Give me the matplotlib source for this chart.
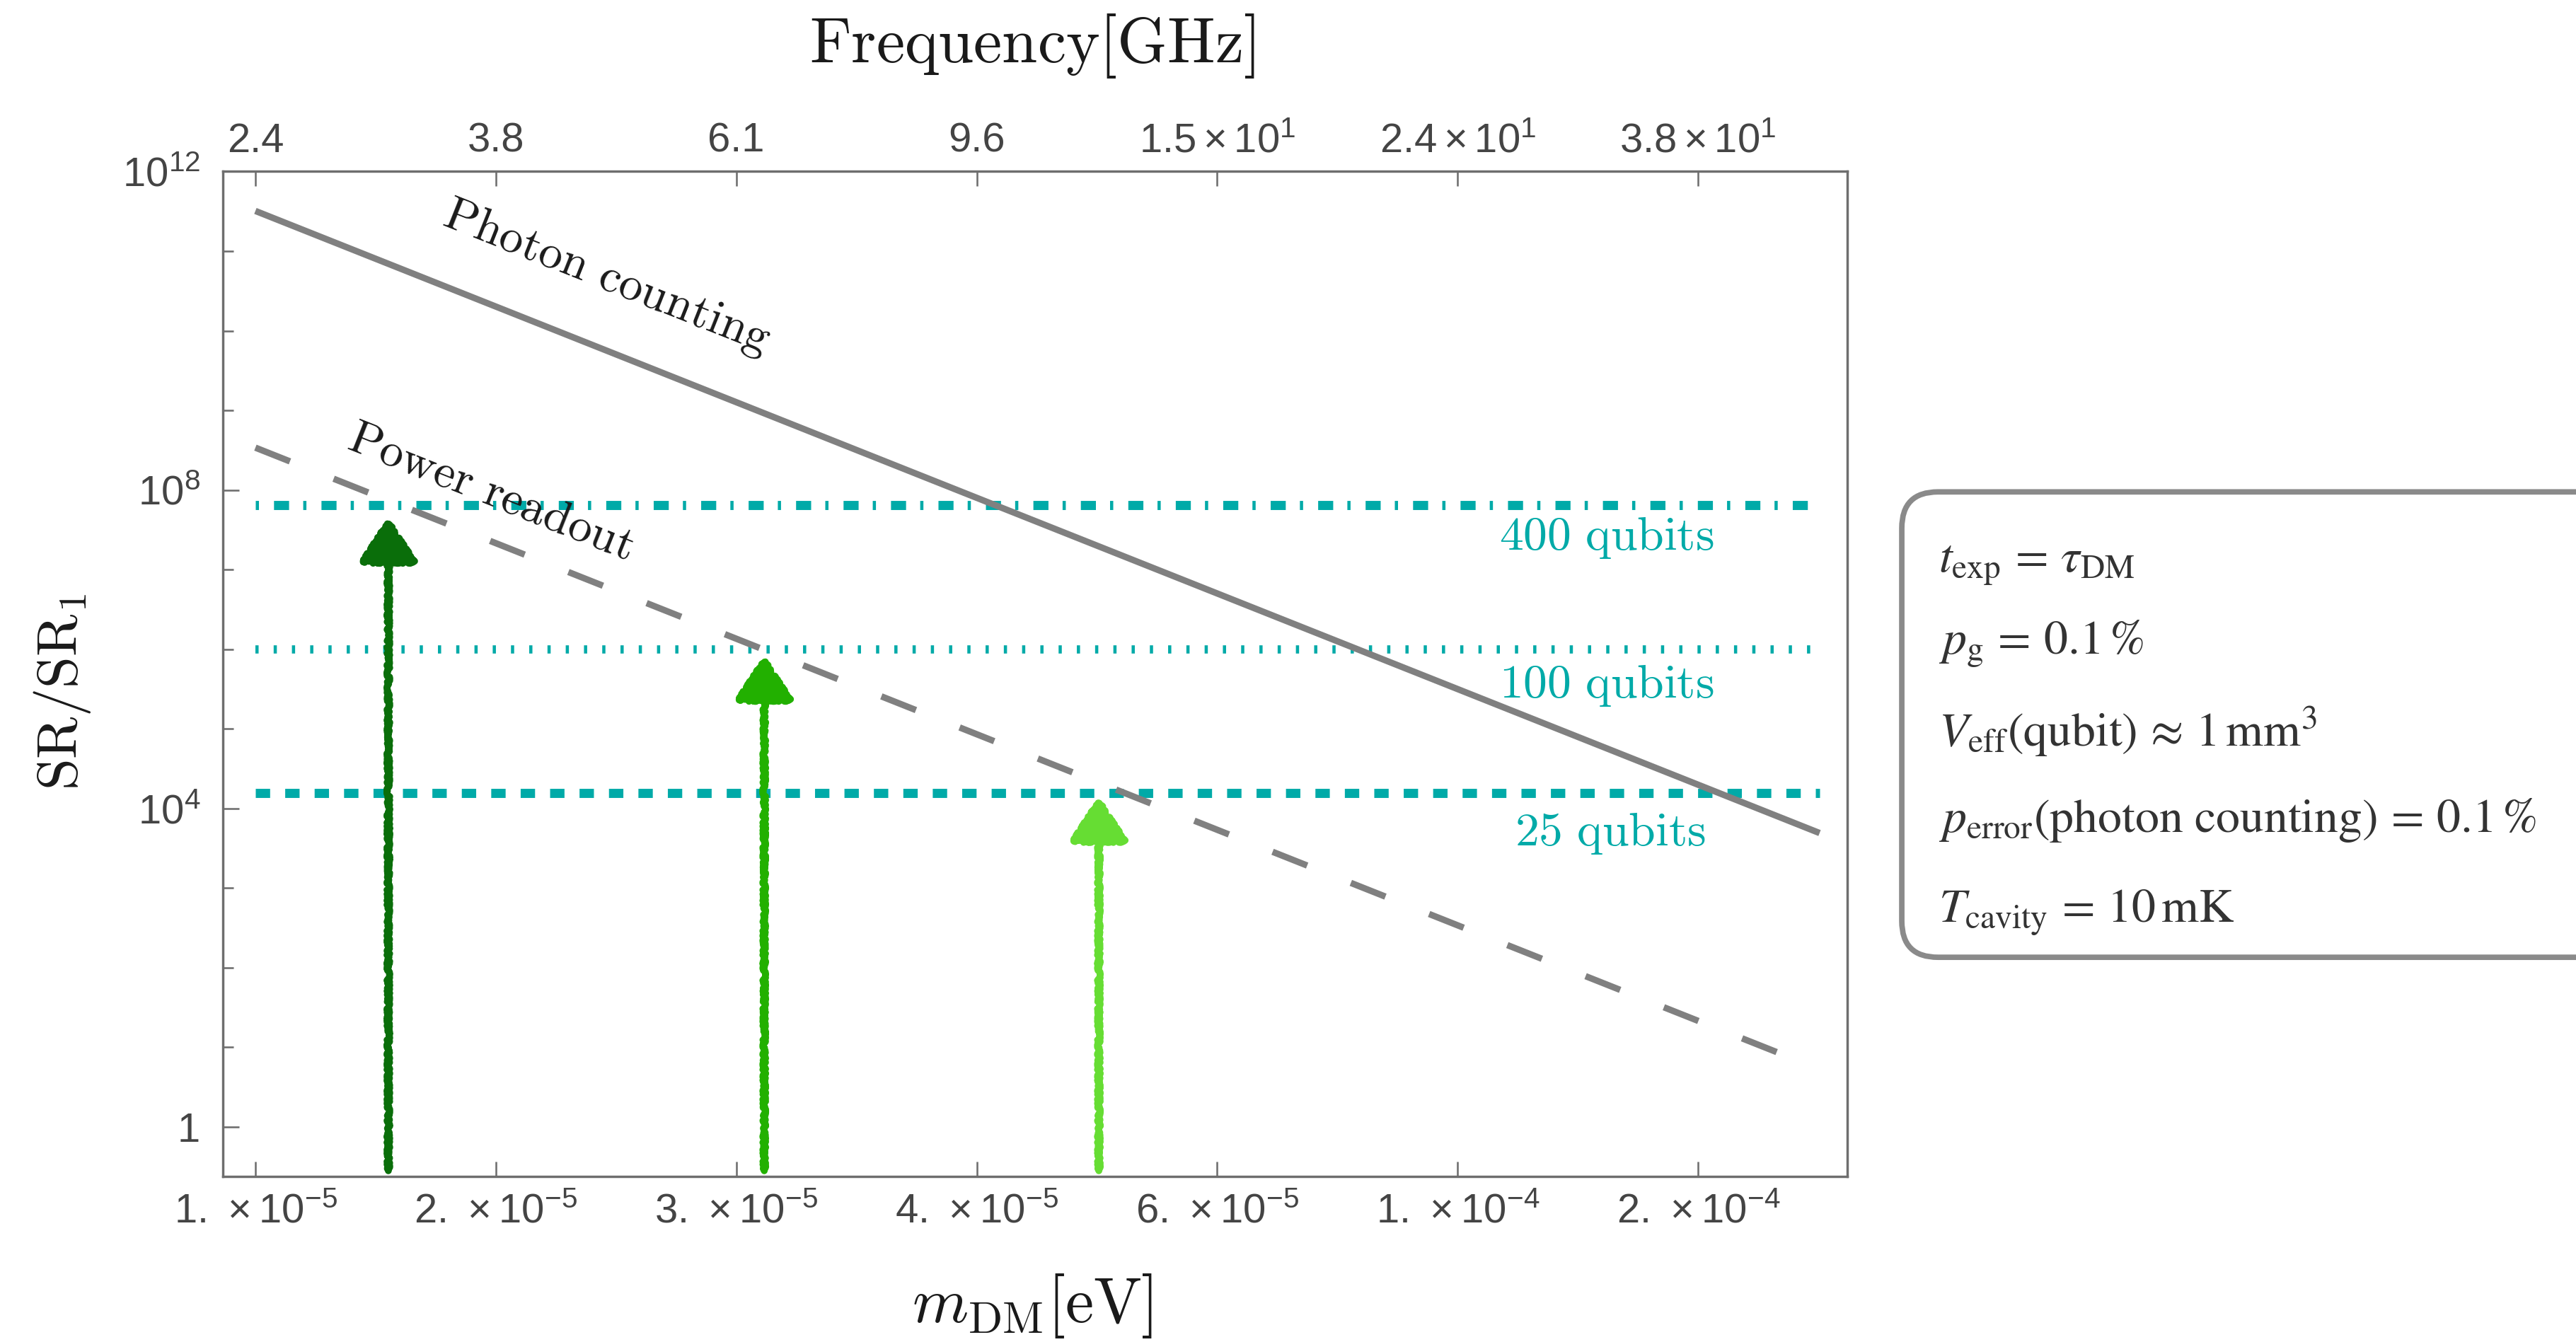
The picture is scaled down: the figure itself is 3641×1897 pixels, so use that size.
import matplotlib
matplotlib.use('Agg')
import matplotlib.pyplot as plt
from matplotlib.patches import FancyBboxPatch
from matplotlib.ticker import FixedLocator, NullLocator, NullFormatter

plt.rcParams['font.family'] = ['Liberation Sans', 'DejaVu Sans']
plt.rcParams['mathtext.fontset'] = 'custom'
plt.rcParams['mathtext.rm'] = 'Liberation Sans'
plt.rcParams['mathtext.it'] = 'Liberation Sans:italic'
plt.rcParams['mathtext.bf'] = 'Liberation Sans:bold'
plt.rcParams['lines.scale_dashes'] = False

# --- data ---
mass_range = [1.0e-5, 2.0e-4]              # eV, span of all lines
photon_counting = [3.2e11, 4.9e3]           # SR/SR1 at the two ends
power_readout = [3.4e8, 5.3]

qubit_levels = [6.4e7, 1.0e6, 1.56e4]
qubit_labels = ['400 qubits', '100 qubits', '25 qubits']
qubit_label_pos = [(1.33e-4, 2.5e7), (1.33e-4, 3.5e5), (1.34e-4, 4.9e3)]

arrow_mass = [1.29e-5, 2.65e-5, 5.03e-5]
arrow_top = [4.5e7, 8.3e5, 1.4e4]
arrow_base = 0.28
arrow_colors = ['#0a6e0a', '#22b000', '#66dd33']

mass_ticks = [1.0e-5, 1.585e-5, 2.512e-5, 3.981e-5, 6.310e-5, 1.0e-4, 1.585e-4]
mass_ticklabels = [r'$1.\,\times10^{-5}$', r'$2.\,\times10^{-5}$', r'$3.\,\times10^{-5}$',
                   r'$4.\,\times10^{-5}$', r'$6.\,\times10^{-5}$', r'$1.\,\times10^{-4}$',
                   r'$2.\,\times10^{-4}$']
freq_ticklabels = ['2.4', '3.8', '6.1', '9.6', r'$1.5\times10^{1}$',
                   r'$2.4\times10^{1}$', r'$3.8\times10^{1}$']
sr_ticks = [1, 1e4, 1e8, 1e12]
sr_ticklabels = ['1', r'$10^{4}$', r'$10^{8}$', r'$10^{12}$']
sr_minor = [1e0, 1e1, 1e2, 1e3, 1e4, 1e5, 1e6, 1e7, 1e8, 1e9, 1e10, 1e11, 1e12]

info_lines = [r'$t_{\mathrm{exp}}\,=\,\tau_{\mathrm{DM}}$',
              r'$p_{\mathrm{g}}\,=\,0.1\,\%$',
              r'$V_{\mathrm{eff}}(\mathrm{qubit})\,\approx\,1\,\mathrm{mm}^{3}$',
              r'$p_{\mathrm{error}}(\mathrm{photon\ counting})\,=\,0.1\,\%$',
              r'$T_{\mathrm{cavity}}\,=\,10\,\mathrm{mK}$']

teal = '#00aaa8'
gray = '#808080'
axis_col = '#6e6e6e'
tick_col = '#444444'

fig = plt.figure(figsize=(15.68, 8.17), dpi=232.21)
ax = fig.add_axes([0.0866, 0.1236, 0.6306, 0.7485])
ax.set_xscale('log')
ax.set_yscale('log')
ax.set_xlim(9.4e-6, 2.11e-4)
ax.set_ylim(0.24, 1e12)

# qubit reach lines
qubit_styles = [(0, (1.4, 6.6, 6.6, 6.2)), (0, (1.4, 6.6)), (0, (6.3, 6.6))]
qubit_lw = [4.0, 3.6, 4.0]
for lev, ls, lw in zip(qubit_levels, qubit_styles, qubit_lw):
    ax.plot(mass_range, [lev, lev], color=teal, lw=lw, linestyle=ls,
            dash_capstyle='butt', zorder=2)
for lab, (xm, yv) in zip(qubit_labels, qubit_label_pos):
    ax.text(xm, yv, r'$\mathrm{%s}$' % lab.replace(' ', r'\ '), color=teal,
            fontsize=21, math_fontfamily='cm', ha='center', va='center', zorder=5)

# photon counting / power readout
ax.plot(mass_range, photon_counting, color=gray, lw=2.8, solid_capstyle='butt', zorder=3)
ax.plot(mass_range, power_readout, color=gray, lw=2.8, linestyle=(0, (16.3, 20.6)),
        dash_capstyle='butt', zorder=3)
ax.text(1.96e-5, 4.6e10, r'$\mathrm{Photon\ counting}$', rotation=-21.7, fontsize=21,
        math_fontfamily='cm', ha='center', va='center', color='#1a1a1a', zorder=5)
ax.text(1.57e-5, 9.4e7, r'$\mathrm{Power\ readout}$', rotation=-21.7, fontsize=21,
        math_fontfamily='cm', ha='center', va='center', color='#1a1a1a', zorder=5)

# sketchy arrows
for m, top, c in zip(arrow_mass, arrow_top, arrow_colors):
    ann = ax.annotate('', xy=(m, top), xytext=(m, arrow_base),
                      arrowprops=dict(arrowstyle='-|>,head_length=0.76,head_width=0.5',
                                      mutation_scale=22, lw=3.0, color=c,
                                      shrinkA=0, shrinkB=0), zorder=4)
    ann.arrow_patch.set_sketch_params(2.0, 6.0, 12.0)

# axes styling
for sp in ax.spines.values():
    sp.set_color(axis_col)
    sp.set_linewidth(1.0)

ax.xaxis.set_major_locator(FixedLocator(mass_ticks))
ax.set_xticklabels(mass_ticklabels)
ax.xaxis.set_minor_locator(NullLocator())
ax.yaxis.set_major_locator(FixedLocator(sr_ticks))
ax.set_yticklabels(sr_ticklabels)
ax.yaxis.set_minor_locator(FixedLocator(sr_minor))
ax.yaxis.set_minor_formatter(NullFormatter())
ax.tick_params(axis='x', which='major', direction='in', length=6.5, width=0.8,
               color=axis_col, labelcolor=tick_col, labelsize=18, pad=7)
ax.tick_params(axis='y', which='major', direction='in', length=7, width=0.8,
               color=axis_col, labelcolor=tick_col, labelsize=18, pad=10)
ax.tick_params(axis='y', which='minor', direction='in', length=4.5, width=0.8,
               color=axis_col)

top = ax.twiny()
top.set_xscale('log')
top.set_xlim(ax.get_xlim())
top.xaxis.set_major_locator(FixedLocator(mass_ticks))
top.set_xticklabels(freq_ticklabels)
top.xaxis.set_minor_locator(NullLocator())
top.tick_params(axis='x', which='major', direction='in', length=6.5, width=0.8,
                color=axis_col, labelcolor=tick_col, labelsize=18, pad=5)
for sp in top.spines.values():
    sp.set_color(axis_col)
    sp.set_linewidth(1.0)

# axis titles
ax.text(0.498, -0.129, r'$m_{\mathrm{DM}}[\mathrm{eV}]$', transform=ax.transAxes,
        fontsize=28, math_fontfamily='cm', ha='center', va='center', color='#1a1a1a')
ax.text(0.498, 1.125, r'$\mathrm{Frequency[GHz]}$', transform=ax.transAxes,
        fontsize=28, math_fontfamily='cm', ha='center', va='center', color='#1a1a1a')
ax.text(-0.099, 0.482, r'$\mathrm{SR}/\mathrm{SR}_{1}$', transform=ax.transAxes,
        fontsize=25, math_fontfamily='cm', ha='center', va='center', rotation=90,
        color='#1a1a1a')

# parameter box
box = FancyBboxPatch((11.576, 2.342), 4.5, 2.833,
                     boxstyle='round,pad=0,rounding_size=0.22',
                     transform=fig.dpi_scale_trans, fc='white', ec='#8a8a8a', lw=2.4)
fig.add_artist(box)
baselines = [348, 398, 454, 506.5, 561]
for line, b in zip(info_lines, baselines):
    fig.text(1180 / 1568, 1 - b / 817, line, fontsize=21, math_fontfamily='stix',
             ha='left', va='baseline', color='#333333')

fig.savefig('out.png', dpi=232.21)
